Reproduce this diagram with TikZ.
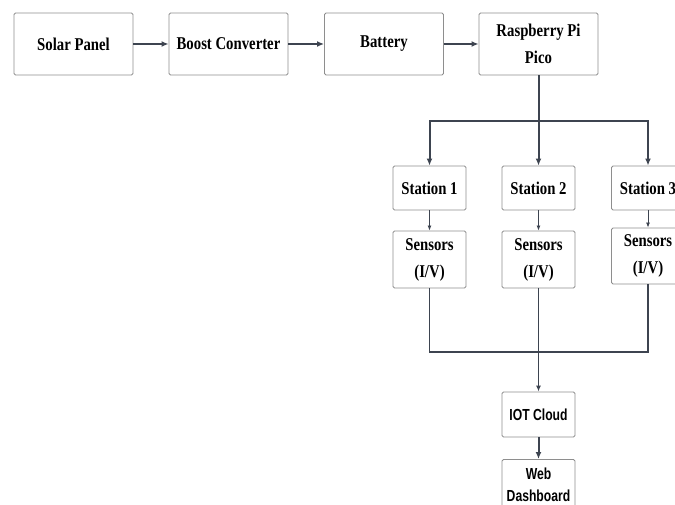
\documentclass[tikz,border=0pt]{standalone}
\usepackage{fontspec}
\usepackage{tikz}
\usetikzlibrary{calc}
\usetikzlibrary{arrows.meta}
\newfontfamily\condserif[FakeStretch=0.82]{Liberation Serif}
\newfontfamily\condsans[FakeStretch=0.76]{Liberation Sans}
\definecolor{wire}{HTML}{3D4450}
\definecolor{frame}{HTML}{8E8E8E}

\begin{document}
\begin{tikzpicture}[x=1pt, y=-1pt,
		block/.style={draw=frame, line width=0.9pt, rounded corners=1.5pt, fill=white, align=center, inner sep=0pt,
			font=\condserif\bfseries\fontsize{18}{27}\selectfont},
		wide/.style={block, minimum width=119pt, minimum height=62pt},
		small/.style={block, minimum width=73pt},
		cloudy/.style={small, font=\condsans\bfseries\fontsize{16}{22}\selectfont},
		bus/.style={draw=wire, line width=2pt},
		feed/.style={bus, -{Latex[length=7pt,width=6pt]}},
		tap/.style={draw=wire, line width=0.8pt, -{Latex[length=5pt,width=4pt]}}]
		\useasboundingbox (0,0) rectangle (675,505);
		\clip (0,0) rectangle (675,505);

		% power chain
		\node[wide] (solar) at (73.5,44) {Solar Panel};
		\node[wide] (boost) at (228.5,44) {Boost Converter};
		\node[wide] (battery) at (384,44) {Battery};
		\node[wide] (pico) at (538.5,44) {Raspberry Pi\\Pico};
		\draw[feed] (solar) -- (boost);
		\draw[feed] (boost) -- (battery);
		\draw[feed] (battery) -- (pico);

		% stations
		\node[small, minimum height=44pt] (st1) at (429.5,188) {Station 1};
		\node[small, minimum height=44pt] (st2) at (538.5,188) {Station 2};
		\node[small, minimum height=44pt] (st3) at (648,188) {Station 3};
		\node[small, minimum height=57pt] (sen1) at (429.5,259.5) {Sensors\\(I/V)};
		\node[small, minimum height=57pt] (sen2) at (538.5,259.5) {Sensors\\(I/V)};
		\node[small, minimum height=56pt] (sen3) at (648,256) {Sensors\\(I/V)};

		\draw[bus] (pico.south) -- (pico.south |- 0,121) coordinate (split);
		\draw[feed] (split) -| (st1.north);
		\draw[feed] (split) -- (st2.north);
		\draw[feed] (split) -| (st3.north);
		\draw[tap] (st1) -- (sen1);
		\draw[tap] (st2) -- (sen2);
		\draw[tap] (st3) -- (sen3);

		% data path
		\node[cloudy, minimum height=45pt] (iot) at (538.5,414.5) {IOT Cloud};
		\node[cloudy, minimum height=50pt, anchor=north] (web) at (538.5,459) {Web\\Dashboard};
		\path (sen1.south |- 0,352) coordinate (merge);
		\draw[draw=wire, line width=1.5pt] (sen1.south) -- (merge) -| (sen3.south);
		\draw[bus, line width=1.5pt, -{Latex[length=6pt,width=5pt]}] (sen2.south) -- (iot.north);
		\draw[feed] (iot) -- (web);
	\end{tikzpicture}
\end{document}
